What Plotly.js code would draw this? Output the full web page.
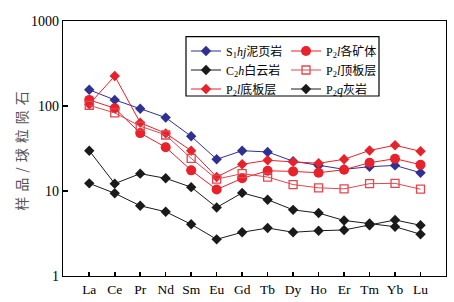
<!DOCTYPE html>
<html>
<head>
<meta charset="utf-8">
<script src="https://cdn.plot.ly/plotly-3.0.1.min.js"></script>
<style>
html,body{margin:0;padding:0;background:#fff;}
#chart{width:454px;height:302px;}
.ytitle{letter-spacing:5px;}
</style>
</head>
<body>
<div id="chart"></div>
<script>
// REE categories
const elements = ['La','Ce','Pr','Nd','Sm','Eu','Gd','Tb','Dy','Ho','Er','Tm','Yb','Lu'];

// Series values (chondrite-normalized)
const s1hjShale   = [155, 118, 93, 73, 44, 23.6, 29.8, 28.8, 22.4, 19.9, 18.0, 19.3, 20.0, 16.4];
const c2hDolomite = [29.8, 12.2, 16.0, 14.1, 11.1, 6.4, 9.5, 7.9, 6.0, 5.5, 4.5, 4.15, 3.8, 3.1];
const p2lFloor    = [105, 225, 63.6, 47.7, 29.8, 14.6, 20.6, 23.0, 22.0, 21.2, 23.6, 30.0, 34.5, 29.3];
const p2lOre      = [118, 94, 48, 32.7, 17.5, 10.4, 14.1, 17.3, 17.0, 16.4, 17.8, 21.5, 24.0, 20.4];
const p2lRoof     = [102, 83, 58, 45.6, 24.2, 13.8, 16.0, 14.6, 11.9, 10.9, 10.6, 12.2, 12.3, 10.5];
const p2qLime     = [12.3, 9.4, 6.7, 5.7, 4.06, 2.7, 3.27, 3.67, 3.27, 3.41, 3.48, 3.95, 4.56, 3.95];

// Legend labels
const names = {
  shale: 'S<sub>1</sub><i>hj</i>泥页岩',
  dolo:  'C<sub>2</sub><i>h</i>白云岩',
  floor: 'P<sub>2</sub><i>l</i>底板层',
  ore:   'P<sub>2</sub><i>l</i>各矿体',
  roof:  'P<sub>2</sub><i>l</i>顶板层',
  lime:  'P<sub>2</sub><i>q</i>灰岩'
};
const yTicks = [1, 10, 100, 1000];
const yTickText = ['1', '10', '100', '1000'];

const BLUE = '#2e3192', RED = '#e8212b', PINK = '#e2474f', BLACK = '#1a1a1a';
const FONT = 'Liberation Serif, Times New Roman, Noto Sans CJK SC, serif';

function tr(y, name, color, symbol, size, legend, extra) {
  return {
    type: 'scatter', mode: 'lines+markers', x: elements, y: y, name: name,
    legend: legend,
    line: {color: color, width: 1},
    marker: Object.assign({color: color, symbol: symbol, size: size}, extra || {})
  };
}

const traces = [
  tr(s1hjShale, names.shale, BLUE, 'diamond', 8, 'legend'),
  tr(c2hDolomite, names.dolo, BLACK, 'diamond', 8, 'legend'),
  tr(p2lFloor, names.floor, RED, 'diamond', 8, 'legend'),
  tr(p2lOre, names.ore, RED, 'circle', 10, 'legend2'),
  tr(p2lRoof, names.roof, PINK, 'square-open', 8, 'legend2', {line: {color: PINK, width: 1.3}}),
  tr(p2qLime, names.lime, BLACK, 'diamond', 8, 'legend2')
];

const L = 63, R = 446, T = 21, B = 276;
const W = R - L, H = B - T;
function px(x){ return (x - L) / W; }
function py(y){ return (B - y) / H; }

const layout = {
  width: 454, height: 302,
  margin: {l: L, r: 454 - R, t: T, b: 302 - B},
  paper_bgcolor: '#fff', plot_bgcolor: '#fff',
  showlegend: true,
  font: {family: FONT, color: '#000'},
  xaxis: {
    type: 'category', range: [-1.03, 14.0],
    showline: true, linecolor: '#000', linewidth: 1.3, mirror: true,
    ticks: 'inside', ticklen: 4, tickwidth: 1.6, tickcolor: '#000',
    showgrid: false, zeroline: false,
    tickfont: {family: FONT, size: 13.5, color: '#000'}
  },
  yaxis: {
    type: 'log', range: [0, 3],
    tickvals: yTicks, ticktext: yTickText,
    showline: true, linecolor: '#000', linewidth: 1.3, mirror: true,
    ticks: 'inside', ticklen: 5, tickwidth: 1.8, tickcolor: '#000',
    showgrid: false, zeroline: false,
    tickfont: {family: FONT, size: 14, color: '#000'},
    title: {text: '样品/球粒陨石', font: {family: 'Noto Sans CJK SC, sans-serif', size: 14, color: '#555'}, standoff: 0}
  },
  legend: {
    x: px(186), y: py(36.5), xanchor: 'left', yanchor: 'top',
    bgcolor: 'rgba(0,0,0,0)', borderwidth: 0,
    font: {family: FONT, size: 12, color: '#000'},
    traceorder: 'normal', itemwidth: 30
  },
  legend2: {
    x: px(286), y: py(36.5), xanchor: 'left', yanchor: 'top',
    bgcolor: 'rgba(0,0,0,0)', borderwidth: 0,
    font: {family: FONT, size: 12, color: '#000'},
    traceorder: 'normal', itemwidth: 30
  },
  shapes: [{
    type: 'rect', xref: 'paper', yref: 'paper',
    x0: px(186), x1: px(379), y0: py(96), y1: py(36.7),
    line: {color: '#000', width: 1.2}, fillcolor: 'rgba(0,0,0,0)'
  }]
};

Plotly.newPlot('chart', traces, layout, {displayModeBar: false, staticPlot: true});
</script>
</body>
</html>
